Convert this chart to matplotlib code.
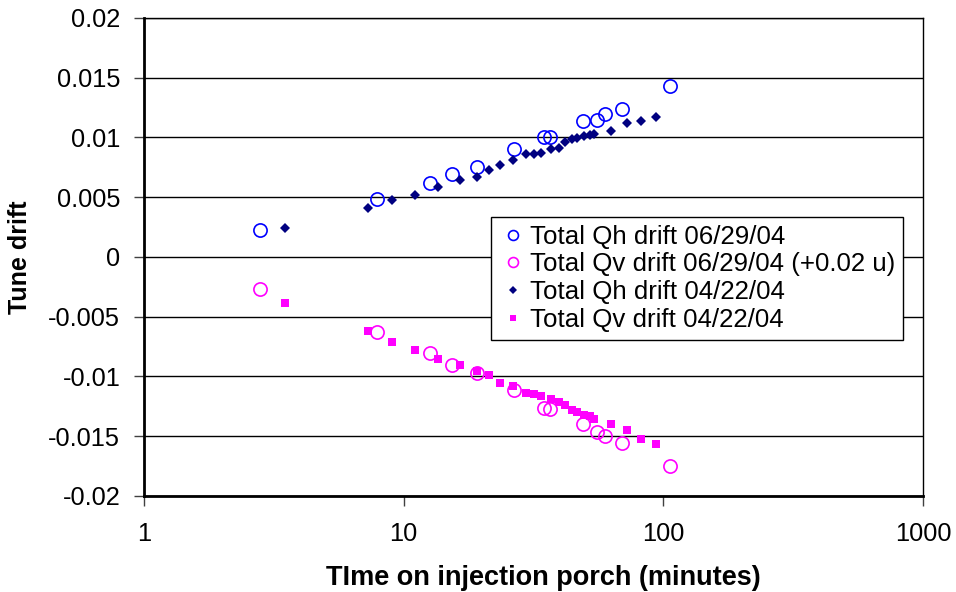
import numpy as np
import matplotlib
matplotlib.use('Agg')
import matplotlib.pyplot as plt
from matplotlib.ticker import FixedLocator, FuncFormatter, NullLocator

plt.rcParams['font.family'] = ['Liberation Sans', 'DejaVu Sans']

# time on porch (minutes), run of 06/29/04
t_0629 = [2.8, 7.9, 12.6, 15.4, 19.1, 26.6, 34.7, 36.5, 49.1, 55.4, 59.5, 69.3, 105.8]
qh_0629 = [0.00223, 0.00483, 0.00619, 0.00697, 0.00756, 0.00901, 0.01002, 0.01002,
           0.01136, 0.01144, 0.01197, 0.01238, 0.01428]
# Qv already shifted by +0.02
qv_0629 = [-0.0027, -0.0063, -0.0080, -0.0090, -0.00968, -0.01113, -0.01261, -0.01272,
           -0.01397, -0.01464, -0.01498, -0.01556, -0.01746]

# run of 04/22/04
t_0422 = [3.5, 7.3, 9.0, 11.1, 13.6, 16.5, 19.1, 21.4, 23.6, 26.3, 29.5, 31.8, 33.8,
          36.8, 39.5, 41.8, 44.4, 46.5, 49.4, 52.1, 54.0, 62.7, 72.7, 81.7, 94.1]
qh_0422 = [0.00240, 0.00413, 0.00477, 0.00521, 0.00588, 0.00647, 0.00669, 0.00726,
           0.00770, 0.00814, 0.00859, 0.00859, 0.00870, 0.00906, 0.00915, 0.00962,
           0.00985, 0.00996, 0.01010, 0.01021, 0.01032, 0.01052, 0.01119, 0.01141, 0.01174]
qv_0422 = [-0.00382, -0.00619, -0.00709, -0.00778, -0.00856, -0.00901, -0.00954, -0.00990,
           -0.01057, -0.01079, -0.01136, -0.01146, -0.01161, -0.01191, -0.01213, -0.01238,
           -0.01280, -0.01297, -0.01320, -0.01331, -0.01353, -0.01395, -0.01450, -0.01521,
           -0.01565]

labels = ['Total Qh drift 06/29/04', 'Total Qv drift 06/29/04 (+0.02 u)',
          'Total Qh drift 04/22/04', 'Total Qv drift 04/22/04']
x_ticks = [1, 10, 100, 1000]
y_ticks = np.arange(-0.02, 0.0201, 0.005)

fig = plt.figure(figsize=(9.56, 5.92), dpi=100)
ax = fig.add_axes([0.1506, 0.1622, 0.8149, 0.8074])

ax.plot(t_0629, qh_0629, 'o', ms=9.5, mfc='none', mec='#0000ff', mew=1.2, label=labels[0], zorder=3)
ax.plot(t_0629, qv_0629, 'o', ms=9.5, mfc='none', mec='#ff00ff', mew=1.2, label=labels[1], zorder=3)
ax.plot(t_0422, qh_0422, 'D', ms=5.6, color='#000080', mew=0, label=labels[2], zorder=3)
ax.plot(t_0422, qv_0422, 's', ms=5.5, color='#ff00ff', mew=0, label=labels[3], zorder=3)

ax.set_xscale('log')
ax.set_xlim(1, 1000)
ax.set_ylim(-0.02, 0.02)
ax.xaxis.set_major_locator(FixedLocator(x_ticks))
ax.xaxis.set_minor_locator(NullLocator())
ax.xaxis.set_major_formatter(FuncFormatter(lambda v, p: '%g' % v))
ax.yaxis.set_major_locator(FixedLocator(y_ticks))
ax.yaxis.set_major_formatter(FuncFormatter(lambda v, p: '%g' % round(v, 4)))

ax.grid(axis='y', color='black', lw=1)
ax.set_axisbelow(True)
for s in ['top', 'right']:
    ax.spines[s].set_linewidth(1)
for s in ['left', 'bottom']:
    ax.spines[s].set_linewidth(2)
ax.tick_params(direction='out', length=7, width=1, color='#404040', labelsize=18.3)
ax.tick_params(axis='y', pad=10)
ax.tick_params(axis='x', pad=12)

ax.set_xlabel('TIme on injection porch (minutes)', fontsize=19.5, fontweight='bold')
ax.xaxis.set_label_coords(0.513, -0.145)
ax.set_ylabel('Tune drift', fontsize=18, fontweight='bold')
ax.yaxis.set_label_coords(-0.144, 0.5)

leg = ax.legend(loc='upper left', bbox_to_anchor=(0.446, 0.584), borderaxespad=0,
                fontsize=18.6, frameon=True, fancybox=False, framealpha=1, edgecolor='black',
                handlelength=1.1, handletextpad=0.1, labelspacing=0.15, borderpad=0.3,
                markerscale=0.75)
leg.get_frame().set_linewidth(1)

fig.savefig('out.png', dpi=100)
